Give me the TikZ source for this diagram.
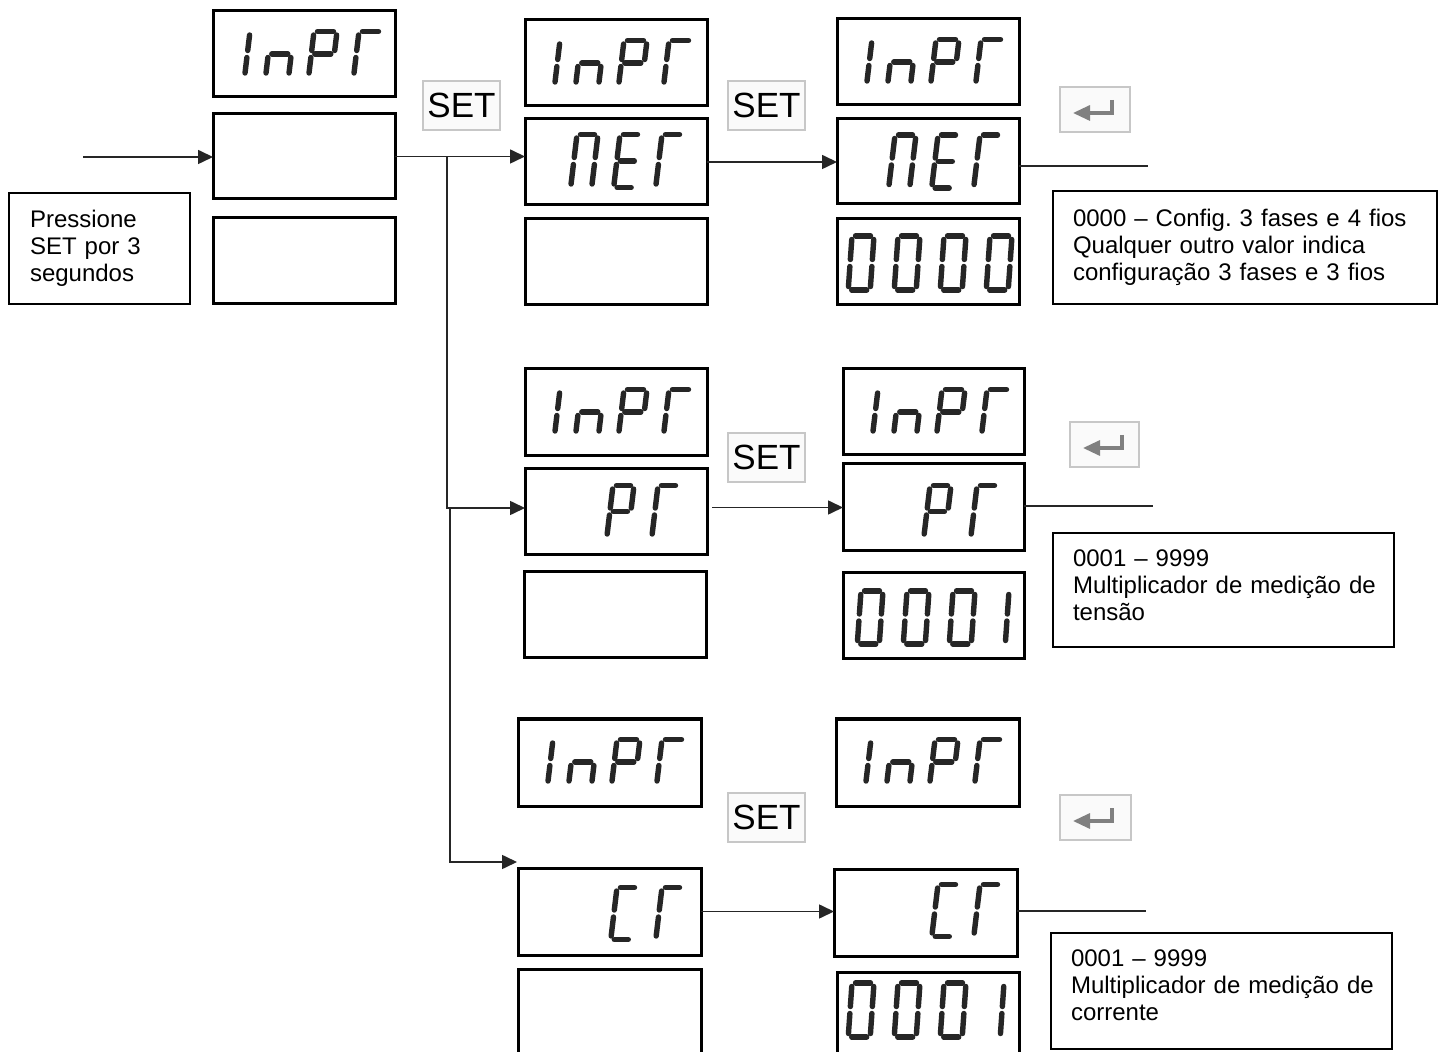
\documentclass[tikz,border=0pt]{standalone}
\usepackage{fontspec}
\setmainfont{Liberation Sans}
\usetikzlibrary{arrows.meta}

% seven-segment glyph helpers (all lengths in picture px units)
\newcommand\sgg{3.5}
\newcommand\sgw{23}
\newcommand\sgh{45}
\newcommand\sevseg[1]{%
  \if#1a\draw[segline] (\sgg,0) -- (\sgw-\sgg,0);\fi
  \if#1b\draw[segline] (\sgw,\sgg) -- (\sgw,\sgh/2-\sgg);\fi
  \if#1c\draw[segline] (\sgw,\sgh/2+\sgg) -- (\sgw,\sgh-\sgg);\fi
  \if#1d\draw[segline] (\sgg,\sgh) -- (\sgw-\sgg,\sgh);\fi
  \if#1e\draw[segline] (0,\sgh/2+\sgg) -- (0,\sgh-\sgg);\fi
  \if#1f\draw[segline] (0,\sgg) -- (0,\sgh/2-\sgg);\fi
  \if#1g\draw[segline] (\sgg,\sgh/2) -- (\sgw-\sgg,\sgh/2);\fi}
\newcommand\sevglyph[6]{%
  \begin{scope}[shift={(#1,#2)},xslant=#5]
    \def\sgw{#3}\def\sgh{#4}%
    \foreach \segid in {#6}{\sevseg\segid}%
  \end{scope}}
\newcommand\gInPr[2]{%
  \sevglyph{#1+12}{#2+20.5}{23}{45}{0.12}{b,c}%
  \sevglyph{#1+56}{#2+20.5}{23}{45}{0.12}{c,e,g}%
  \sevglyph{#1+99}{#2+20.5}{23}{45}{0.12}{a,b,e,f,g}%
  \sevglyph{#1+144}{#2+20.5}{23}{45}{0.12}{a,e,f}}
% boxes: style, name, x1, y1, x2, y2
\newcommand\bx[6]{%
  \node[#1, anchor=north west, minimum width={(#5-#3)*0.5pt},
        minimum height={(#6-#4)*0.5pt}] (#2) at (#3,#4) {};}
\newcommand\enticon[1]{%
  \draw[entline] ([shift={(52,13)}]#1.north west) -- ([shift={(52,26)}]#1.north west)
     -- ([shift={(13,26)}]#1.north west);}

\begin{document}
\begin{tikzpicture}[x=0.5pt,y=-0.5pt,
  dispbox/.style={rectangle, draw=black, line width=1.5pt, inner sep=0pt, outer sep=0pt},
  txtbox/.style={rectangle, draw=black, line width=1pt, inner ysep=0pt, outer sep=0pt,
                 align=left, anchor=north west, font=\fontsize{12pt}{13.5pt}\selectfont\frenchspacing},
  setbtn/.style={rectangle, draw=black!22, fill=black!2, line width=0.8pt, inner sep=0pt,
                 outer sep=0pt, font=\fontsize{17.5pt}{20pt}\selectfont},
  entbtn/.style={rectangle, draw=black!22, fill=black!2, line width=0.8pt, inner sep=0pt, outer sep=0pt},
  conn/.style={draw=black!85, line width=0.8pt},
  arr/.style={conn, -{Triangle[length=7.5pt,width=7pt]}},
  segline/.style={line width=2.7pt, line cap=round, draw=black!85},
  entline/.style={draw=black!50, line width=1.6pt, -{Triangle[length=8.5pt,width=7.5pt]}},
]
\useasboundingbox (0,0) rectangle (1445,1052);
\fill[white] (0,0) rectangle (1445,1052);
\clip (0,0) rectangle (1445,1052);

% ---- display boxes ----
\bx{dispbox}{A1}{213}{11}{395}{97}
\bx{dispbox}{A2}{213}{114}{395}{199}
\bx{dispbox}{A3}{213}{218}{395}{304}
\bx{dispbox}{B1}{525}{20}{707}{106}
\bx{dispbox}{B2}{525}{119}{707}{205}
\bx{dispbox}{B3}{525}{219}{707}{305}
\bx{dispbox}{C1}{837}{19}{1019}{105}
\bx{dispbox}{C2}{837}{119}{1019}{204}
\bx{dispbox}{C3}{837}{219}{1019}{305}
\bx{dispbox}{B1p}{525}{369}{707}{456}
\bx{dispbox}{B2p}{525}{469}{707}{555}
\bx{dispbox}{B3p}{524}{572}{706}{658}
\bx{dispbox}{C1p}{843}{369}{1024}{455}
\bx{dispbox}{C2p}{843}{464}{1024}{551}
\bx{dispbox}{C3p}{843}{573}{1024}{659}
\bx{dispbox}{D1}{518}{719}{701}{806}
\bx{dispbox}{D2}{518}{868}{701}{955}
\bx{dispbox}{D3}{518}{969}{701}{1064}
\bx{dispbox}{E1}{836}{719}{1019}{806}
\bx{dispbox}{E2}{834}{869}{1017}{956}
\bx{dispbox}{E3}{837}{972}{1019}{1064}

% ---- text boxes ----
\node[txtbox, inner xsep=10.5pt, text width=69.5pt, minimum height=55.5pt] (P0) at (9,193)
  {Pressione\\SET por 3\\segundos};
\node[txtbox, inner xsep=10pt, text width=172pt, minimum height=56.5pt] (T1) at (1053,191)
  {\mbox{0000 – Config. 3 fases e 4 fios}\\\mbox{Qualquer outro valor indica}\\\mbox{configuração 3 fases e 3 fios}};
\node[txtbox, inner xsep=10pt, text width=150.5pt, minimum height=57pt] (T2) at (1053,533)
  {\mbox{0001 – 9999}\\\mbox{Multiplicador de medição de}\\tensão\rule[-4.5pt]{0pt}{4.5pt}};
\node[txtbox, inner xsep=10pt, text width=150.5pt, minimum height=58pt] (T3) at (1051,933)
  {\mbox{0001 – 9999}\\\mbox{Multiplicador de medição de}\\corrente\rule[-6pt]{0pt}{6pt}};

% ---- SET buttons ----
\node[setbtn, anchor=north west, minimum width=38.5pt, minimum height=24.5pt] (S1) at (423,81) {SET};
\node[setbtn, anchor=north west, minimum width=38.5pt, minimum height=24.5pt] (S2) at (728,81) {SET};
\node[setbtn, anchor=north west, minimum width=38.5pt, minimum height=24.5pt] (S3) at (728,433) {SET};
\node[setbtn, anchor=north west, minimum width=38.5pt, minimum height=24.5pt] (S4) at (728,793) {SET};

% ---- Enter buttons ----
\node[entbtn, anchor=north west, minimum width=35pt, minimum height=22.5pt] (N1) at (1060,87) {};
\node[entbtn, anchor=north west, minimum width=34.5pt, minimum height=22.5pt] (N2) at (1070,422) {};
\node[entbtn, anchor=north west, minimum width=35.5pt, minimum height=22.5pt] (N3) at (1060,795) {};
\enticon{N1}
\enticon{N2}
\enticon{N3}

% ---- seven-segment contents ----
\gInPr{215}{11}
\gInPr{525}{20}
\gInPr{837}{19}
\gInPr{525}{369}
\gInPr{843}{369}
\gInPr{518}{719}
\gInPr{836}{719}
% nEr
\sevglyph{525+52}{119+15.5}{21}{53}{0.12}{a,b,c,e,f}
\sevglyph{525+95}{119+15.5}{21}{53}{0.12}{a,d,e,f,g}
\sevglyph{525+137}{119+15.5}{21}{53}{0.12}{a,e,f}
\sevglyph{837+58}{119+16}{21}{53}{0.12}{a,b,c,e,f}
\sevglyph{837+101}{119+16}{21}{53}{0.12}{a,d,e,f,g}
\sevglyph{837+143}{119+16}{21}{53}{0.12}{a,e,f}
% Pr
\sevglyph{525+88}{469+16.5}{21}{52}{0.12}{a,b,e,f,g}
\sevglyph{525+133}{469+16.5}{21}{52}{0.12}{a,e,f}
\sevglyph{843+87}{464+21.5}{21}{52}{0.12}{a,b,e,f,g}
\sevglyph{843+134}{464+21.5}{21}{52}{0.12}{a,e,f}
% Cr
\sevglyph{518+99}{868+19.5}{21}{52}{0.12}{a,d,e,f}
\sevglyph{518+144}{868+19.5}{21}{52}{0.12}{a,e,f}
\sevglyph{834+104}{869+15.5}{21}{52}{0.12}{a,d,e,f}
\sevglyph{834+146}{869+15.5}{21}{52}{0.12}{a,e,f}
% 0000
\sevglyph{837+15}{219+17}{22}{54}{0.07}{a,b,c,d,e,f}
\sevglyph{837+61}{219+17}{22}{54}{0.07}{a,b,c,d,e,f}
\sevglyph{837+107}{219+17}{22}{54}{0.07}{a,b,c,d,e,f}
\sevglyph{837+153}{219+17}{22}{54}{0.07}{a,b,c,d,e,f}
% 0001 (voltage)
\sevglyph{843+18}{573+18}{22}{53}{0.07}{a,b,c,d,e,f}
\sevglyph{843+64}{573+18}{22}{53}{0.07}{a,b,c,d,e,f}
\sevglyph{843+110}{573+18}{22}{53}{0.07}{a,b,c,d,e,f}
\sevglyph{843+144}{573+18}{22}{53}{0.07}{b,c}
% 0001 (current)
\sevglyph{837+15}{972+11}{22}{54}{0.07}{a,b,c,d,e,f}
\sevglyph{837+61}{972+11}{22}{54}{0.07}{a,b,c,d,e,f}
\sevglyph{837+107}{972+11}{22}{54}{0.07}{a,b,c,d,e,f}
\sevglyph{837+145}{972+11}{22}{54}{0.07}{b,c}

% ---- connectors ----
\coordinate (in) at (83,157);
\draw[arr] (in) -- (in -| A2.west);
\draw[arr] (A2.east) -- (A2.east -| B2.west);
\coordinate (j1) at (447,157);
\coordinate (j2) at (447,508);
\draw[arr] (j1) -- (j2) -- (j2 -| B2p.west);
\coordinate (j3) at (450,508);
\coordinate (j4) at (450,862);
\coordinate (dtip) at (517,862);
\draw[arr] (j3) -- (j4) -- (dtip);
\draw[arr] (B2.east) -- (B2.east -| C2.west);
\coordinate (e1) at (1148,166);
\draw[conn] (C2.east |- e1) -- (e1);
\draw[arr, shorten <=2.5pt] (B2p.east |- C2p.west) -- (C2p.west);
\coordinate (e2) at (1153,506);
\draw[conn] (C2p.east |- e2) -- (e2);
\draw[arr] (D2.east) -- (D2.east -| E2.west);
\coordinate (e3) at (1146,911);
\draw[conn] (E2.east |- e3) -- (e3);
\end{tikzpicture}
\end{document}
